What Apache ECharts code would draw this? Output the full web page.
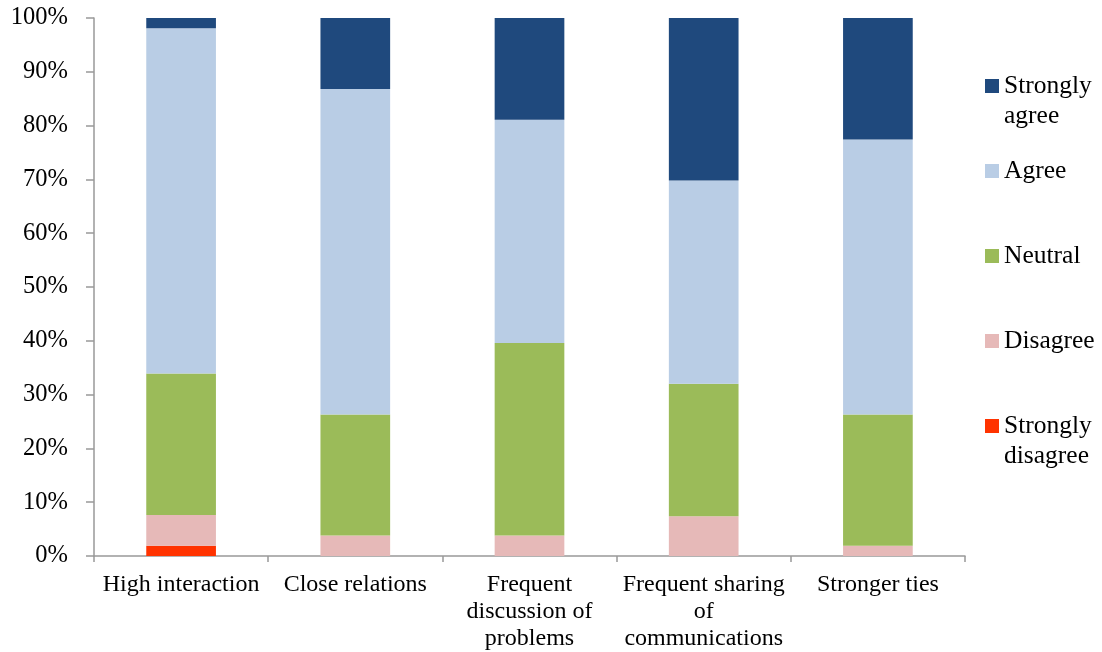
<!DOCTYPE html>
<html>
<head>
<meta charset="utf-8">
<style>
  html, body { margin: 0; padding: 0; background: #ffffff; }
  #chart { width: 1102px; height: 652px; }
</style>
<script src="https://cdn.jsdelivr.net/npm/echarts@6/dist/echarts.min.js"></script>
</head>
<body>
<div id="chart"></div>
<script>
// Survey items along the x axis
const categories = [
  'High interaction',
  'Close relations',
  'Frequent\ndiscussion of\nproblems',
  'Frequent sharing\nof\ncommunications',
  'Stronger ties'
];

// Share of responses per item (%)
const stronglyDisagree = [1.9, 0, 0, 0, 0];
const disagree         = [5.7, 3.8, 3.8, 7.4, 1.9];
const neutral          = [26.3, 22.5, 35.8, 24.6, 24.4];
const agree            = [64.2, 60.5, 41.5, 37.8, 51.1];
const stronglyAgree    = [1.9, 13.2, 18.9, 30.2, 22.6];

const yTicks = { min: 0, max: 100, step: 10 };

const FONT = '"Liberation Serif", "Times New Roman", serif';

// Legend text laid out on three lines so the swatch sits beside the first line
const legendLines = {
  'Strongly agree': ['Strongly', 'agree'],
  'Agree': ['Agree', ''],
  'Neutral': ['Neutral', ''],
  'Disagree': ['Disagree', ''],
  'Strongly disagree': ['Strongly', 'disagree']
};

const seriesDefs = [
  { name: 'Strongly disagree', data: stronglyDisagree, color: '#FF3300' },
  { name: 'Disagree',          data: disagree,         color: '#E6B9B8' },
  { name: 'Neutral',           data: neutral,          color: '#9BBB59' },
  { name: 'Agree',             data: agree,            color: '#B9CDE5' },
  { name: 'Strongly agree',    data: stronglyAgree,    color: '#1F497D' }
];

const chart = echarts.init(document.getElementById('chart'), null, { renderer: 'canvas' });

chart.setOption({
  animation: false,
  backgroundColor: '#ffffff',
  grid: { left: 94, right: 137, top: 18, bottom: 95, containLabel: false },
  legend: {
    orient: 'vertical',
    left: 985,
    top: 41,
    padding: 0,
    itemWidth: 14,
    itemHeight: 14,
    itemGap: -5,
    icon: 'rect',
    data: seriesDefs.map(s => s.name).reverse(),
    formatter: name => '\n' + legendLines[name][0] + '\n' + legendLines[name][1],
    textStyle: { fontFamily: FONT, fontSize: 25.5, lineHeight: 30, color: '#000000' }
  },
  xAxis: {
    type: 'category',
    data: categories,
    axisLine: { lineStyle: { color: '#999999', width: 1.5 } },
    axisTick: { show: true, length: 6, lineStyle: { color: '#999999', width: 1.5 } },
    axisLabel: {
      interval: 0,
      margin: 15,
      fontFamily: FONT,
      fontSize: 24,
      lineHeight: 27,
      color: '#000000'
    }
  },
  yAxis: {
    type: 'value',
    min: yTicks.min,
    max: yTicks.max,
    interval: yTicks.step,
    axisLine: { show: true, lineStyle: { color: '#999999', width: 1.5 } },
    axisTick: { show: true, length: 8, lineStyle: { color: '#999999', width: 1.5 } },
    splitLine: { show: false },
    axisLabel: {
      formatter: '{value}%',
      margin: 26,
      fontFamily: FONT,
      fontSize: 24.5,
      color: '#000000'
    }
  },
  series: seriesDefs.map(s => ({
    name: s.name,
    type: 'bar',
    stack: 'total',
    barWidth: '40%',
    data: s.data,
    itemStyle: { color: s.color }
  }))
});
</script>
</body>
</html>
